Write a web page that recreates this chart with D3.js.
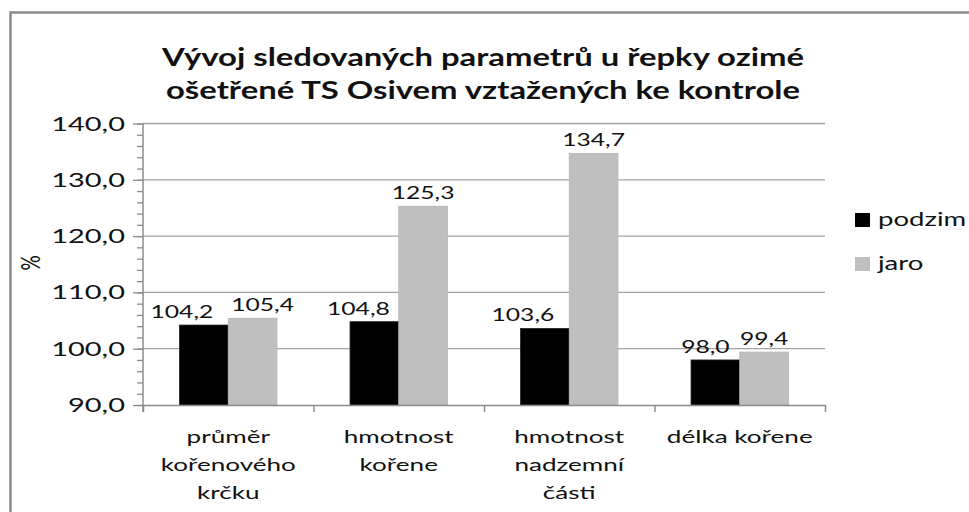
<!DOCTYPE html>
<html lang="cs">
<head>
    <meta charset="UTF-8">
    <title>Vývoj sledovaných parametrů</title>
    <script src="https://d3js.org/d3.v7.min.js"></script>
    <style>
        body { margin: 0; background: #fff; }
        text { font-family: Lato, "Open Sans", sans-serif; fill: #111; }
    </style>
</head>
<body>
    <svg width="969" height="512"></svg>

    <script>
        // chart values
        const categories = [
            ["průměr", "kořenového", "krčku"],
            ["hmotnost", "kořene"],
            ["hmotnost", "nadzemní", "části"],
            ["délka kořene"]
        ];
        const seriesNames = ["podzim", "jaro"];
        const podzim = [104.2, 104.8, 103.6, 98.0];
        const jaro = [105.4, 125.3, 134.7, 99.4];
        const yTicks = [90, 100, 110, 120, 130, 140];
        const titleLines = [
            "Vývoj sledovaných parametrů u řepky ozimé",
            "ošetřené TS Osivem vztažených ke kontrole"
        ];

        const width = 969;
        const height = 512;
        const sx = 1.45;   // the picture is stretched sideways, text too
        const colors = { podzim: "#000000", jaro: "#bfbfbf" };

        const plotLeft = 143, plotRight = 825, plotTop = 123.5, plotBottom = 405;

        const svg = d3.select("svg");

        // outer frame
        svg.append("rect")
            .attr("x", 10.5).attr("y", 12.5)
            .attr("width", width).attr("height", height)
            .attr("fill", "none")
            .attr("stroke", "#8a8a8a")
            .attr("stroke-width", 2.5);

        function stretchedText(g, x, y, str, k = sx) {
            return g.append("text")
                .attr("transform", `translate(${x},${y}) scale(${k},1)`)
                .text(str);
        }

        const y = d3.scaleLinear().domain([90, 140]).range([plotBottom, plotTop]);

        const x0 = d3.scaleBand()
            .domain(d3.range(categories.length))
            .range([plotLeft, plotRight])
            .paddingInner(1.5 / 3.5)
            .paddingOuter(0.75 / 3.5);

        const x1 = d3.scaleBand()
            .domain(seriesNames)
            .range([0, x0.bandwidth()]);

        // gridlines
        svg.append("g")
            .selectAll("line")
            .data(yTicks.slice(1))
            .join("line")
            .attr("x1", plotLeft).attr("x2", plotRight)
            .attr("y1", d => y(d)).attr("y2", d => y(d))
            .attr("stroke", "#a3a3a3")
            .attr("stroke-width", 1.3);

        // bars
        const data = seriesNames.map(s => ({ name: s, values: s === "podzim" ? podzim : jaro }));
        data.forEach(s => {
            svg.append("g")
                .selectAll("rect")
                .data(s.values)
                .join("rect")
                .attr("x", (d, i) => x0(i) + x1(s.name))
                .attr("y", d => Math.min(y(d), plotBottom))
                .attr("width", x1.bandwidth())
                .attr("height", d => plotBottom - y(d))
                .attr("fill", colors[s.name])
                .attr("stroke", s.name === "podzim" ? "#222" : "#b5b5b5")
                .attr("stroke-width", 0.8);
        });

        // data labels (nudged like in the source chart)
        const labelNudge = { podzim: [-22, -16, -22, -10], jaro: [10, 0, 0, 0] };
        const fmt = v => d3.format(".1f")(v).replace(".", ",");
        data.forEach(s => {
            const g = svg.append("g").attr("font-size", 17).attr("text-anchor", "middle");
            s.values.forEach((v, i) => {
                const cx = x0(i) + x1(s.name) + x1.bandwidth() / 2 + labelNudge[s.name][i];
                stretchedText(g, cx, y(v) - 7, fmt(v));
            });
        });

        // y axis with major and minor ticks
        const yAxisMinor = d3.axisLeft(y)
            .tickValues(d3.range(90, 141, 2))
            .tickSize(6)
            .tickFormat("");
        const yAxis = d3.axisLeft(y)
            .tickValues(yTicks)
            .tickSize(10)
            .tickFormat("");

        svg.append("g").attr("transform", `translate(${plotLeft},0)`).call(yAxisMinor)
            .call(g => g.select(".domain").remove());
        const ya = svg.append("g").attr("transform", `translate(${plotLeft},0)`).call(yAxis);
        ya.select(".domain").attr("d", `M0,${plotTop}V${plotBottom + 7}`);
        svg.selectAll(".tick line").attr("stroke", "#8c8c8c").attr("stroke-width", 1.3);
        ya.select(".domain").attr("stroke", "#8c8c8c").attr("stroke-width", 1.5);

        const yLabels = svg.append("g").attr("font-size", 20).attr("text-anchor", "end");
        yTicks.forEach(t => {
            stretchedText(yLabels, 125, y(t) + 7, fmt(t));
        });

        // x axis with category dividers
        const xDiv = d3.scaleLinear().domain([0, categories.length]).range([plotLeft, plotRight]);
        const xa = svg.append("g")
            .attr("transform", `translate(0,${plotBottom})`)
            .call(d3.axisBottom(xDiv).tickValues(d3.range(categories.length + 1)).tickSize(7).tickFormat("").tickSizeOuter(0));
        xa.selectAll("line, path").attr("stroke", "#8c8c8c").attr("stroke-width", 1.5);

        // category labels
        const catG = svg.append("g").attr("font-size", 18).attr("text-anchor", "middle");
        categories.forEach((lines, i) => {
            const cx = x0(i) + x0.bandwidth() / 2;
            lines.forEach((ln, j) => {
                stretchedText(catG, cx, 443 + j * 28, ln);
            });
        });

        // y axis title
        svg.append("text")
            .attr("transform", `translate(40,263) scale(${sx},1) rotate(-90)`)
            .attr("text-anchor", "middle")
            .attr("font-size", 19)
            .text("%");

        // title
        const titleG = svg.append("g").attr("font-size", 24.5).attr("font-weight", "bold").attr("text-anchor", "middle");
        titleLines.forEach((ln, j) => {
            stretchedText(titleG, 483, 66 + j * 33, ln, 1.34);
        });

        // legend
        const legend = svg.append("g").attr("font-size", 19);
        seriesNames.forEach((s, i) => {
            const ly = 213 + i * 44;
            legend.append("rect")
                .attr("x", 855).attr("y", ly)
                .attr("width", 15).attr("height", 14)
                .attr("fill", colors[s]);
            stretchedText(legend, 878, ly + 13, s);
        });
    </script>
</body>
</html>
